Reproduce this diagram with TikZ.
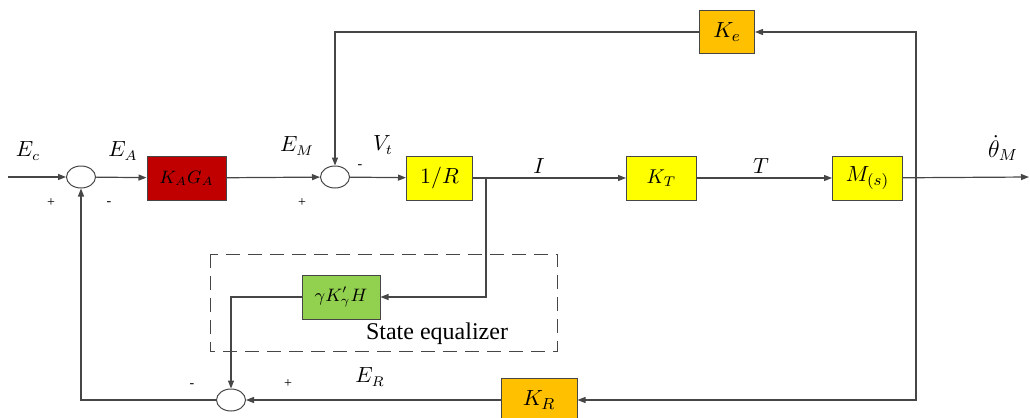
\documentclass[tikz,border=0pt]{standalone}
\usepackage{amsmath, amssymb}
\usepackage{fontspec}
\setmainfont{Liberation Serif}
\usepackage{tikz}
\usetikzlibrary{arrows.meta, positioning, shapes.geometric}
\usepackage{xcolor}
\definecolor{rouge}{RGB}{192,0,0}
\definecolor{jaune}{RGB}{255,255,0}
\definecolor{orange}{RGB}{255,192,0}
\definecolor{vert}{RGB}{146,208,80}
\definecolor{gris}{RGB}{70,70,70}
\tikzset{
	bloc/.style={draw=gris, line width=0.5pt, minimum height=22pt, inner sep=1pt, font=\fontsize{10}{12}\selectfont},
	somme/.style={ellipse, draw=gris, line width=0.5pt, minimum width=14.5pt, minimum height=11pt, inner sep=0pt},
	lien/.style={draw=gris, line width=0.6pt, -{Triangle[length=4pt,width=3pt]}},
	etiq/.style={font=\fontsize{10.5}{12}\selectfont},
	signe/.style={font=\fontsize{7}{8}\selectfont}
}

\begin{document}
\begin{tikzpicture}[x=0.5pt, y=-0.5pt]
	\useasboundingbox (0,0) rectangle (1030,418);
	% zone egaliseur
	\draw[gris, dash pattern=on 7pt off 4pt, line width=0.5pt] (210,254) rectangle (557,351);
	% sommateurs
	\node[somme] (s1) at (81,177) {};
	\node[somme] (s2) at (335,177) {};
	\node[somme] (s3) at (231,400) {};
	% blocs
	\node[bloc, fill=rouge, minimum width=39.5pt, font=\fontsize{9}{11}\selectfont] (kaga) at (186.5,178) {$K_A G_A$};
	\node[bloc, fill=jaune, minimum width=33pt, font=\fontsize{11}{13}\selectfont] (invr) at (439.5,178) {$1/R$};
	\node[bloc, fill=jaune, minimum width=35pt] (kt) at (661.5,178) {$K_T$};
	\node[bloc, fill=jaune, minimum width=35pt, font=\fontsize{11}{13}\selectfont] (m) at (867.5,178) {$M_{(s)}$};
	\node[bloc, fill=orange, minimum width=27.5pt, minimum height=21.5pt, font=\fontsize{11}{13}\selectfont] (ke) at (727,32) {$K_e$};
	\node[bloc, fill=vert, minimum width=39pt, font=\fontsize{9}{11}\selectfont] (geq) at (341,297) {$\gamma K'_{\gamma} H$};
	\node[bloc, fill=orange, minimum width=38pt, minimum height=21.5pt, font=\fontsize{11}{13}\selectfont] (kr) at (539,400) {$K_R$};
	% points de passage
	\coordinate (in) at (8,177);
	\coordinate (out) at (1029,177);
	\coordinate (br) at (486,177);
	\coordinate (dr) at (916,177);
	% chaine directe
	\draw[lien] (in) -- (s1);
	\draw[lien] (s1) -- (kaga);
	\draw[lien] (kaga) -- (s2);
	\draw[lien] (s2) -- (invr);
	\draw[lien] (invr) -- (kt);
	\draw[lien] (kt) -- (m);
	\draw[lien] (m) -- (out);
	% retours
	\draw[lien] (dr) |- (ke);
	\draw[lien] (ke) -| (s2);
	\draw[lien] (br) |- (geq);
	\draw[lien] (geq) -| (s3);
	\draw[lien] (dr) |- (kr);
	\draw[lien] (kr) -- (s3);
	\draw[lien] (s3) -| (s1);
	% signaux
	\node[etiq] (lec) at (28,151) {$E_c$};
	\node[etiq] (lea) at (123,151) {$E_A$};
	\node[etiq] (lem) at (297,146) {$E_M$};
	\node[etiq] (lvt) at (383,145) {$V_t$};
	\node[etiq] (li) at (539,166) {$I$};
	\node[etiq] (lt) at (761,166) {$T$};
	\node[etiq, font=\fontsize{12}{14}\selectfont] (lth) at (1003,148) {$\dot{\theta}_M$};
	\node[etiq] (ler) at (370,377) {$E_R$};
	\node[font=\rmfamily\fontsize{12}{14}\selectfont] (lse) at (437,334) {State equalizer};
	% signes
	\node[signe] (p1) at (51,203) {+};
	\node[signe] (m1) at (109,204) {-};
	\node[signe] (p2) at (302,203) {+};
	\node[signe] (m2) at (360,167) {-};
	\node[signe] (m3) at (192,386) {-};
	\node[signe] (p3) at (288,384) {+};
\end{tikzpicture}
\end{document}
